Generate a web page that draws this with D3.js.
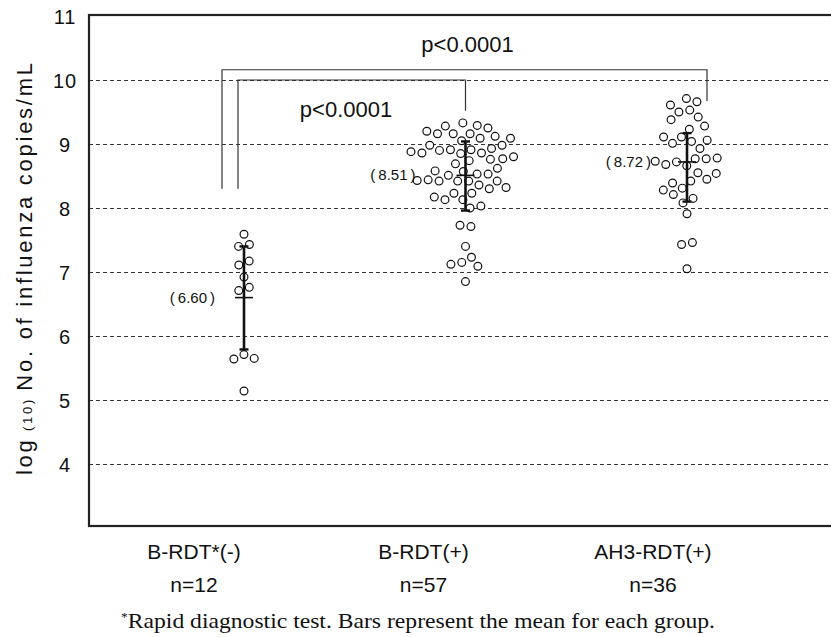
<!DOCTYPE html>
<html>
<head>
<meta charset="utf-8">
<script src="https://cdn.jsdelivr.net/npm/d3@7"></script>
<style>
  body { margin: 0; background: #fff; }
</style>
</head>
<body>
<div id="chart-area"></div>
<script>
// data
var groups = ["B-RDT*(-)", "B-RDT(+)", "AH3-RDT(+)"];
var groupN = ["n=12", "n=57", "n=36"];
var groupMeans = [6.60, 8.51, 8.72];
var barLow = [5.79, 7.96, 8.10];
var barHigh = [7.40, 9.04, 9.17];
var yTicks = [4, 5, 6, 7, 8, 9, 10, 11];
var pLabels = ["p<0.0001", "p<0.0001"];

var bRdtNeg = [7.59, 7.43, 7.40, 7.11, 7.17, 6.92, 6.76, 6.71, 5.71, 5.65, 5.64, 5.14];
var bRdtPos = [9.33, 9.29, 9.28, 9.25, 9.20, 9.16, 9.16, 9.16, 9.12, 9.09, 9.09, 9.05,
  8.98, 8.98, 8.93, 8.91, 8.91, 8.90, 8.88, 8.86, 8.86, 8.85, 8.80, 8.77, 8.76, 8.74,
  8.69, 8.62, 8.58, 8.57, 8.53, 8.53, 8.51, 8.44, 8.43, 8.42, 8.42, 8.42, 8.42, 8.36,
  8.32, 8.30, 8.23, 8.23, 8.17, 8.13, 8.13, 8.03, 8.00, 7.73, 7.71, 7.40, 7.23, 7.15,
  7.12, 7.09, 6.85];
var ah3RdtPos = [9.71, 9.66, 9.61, 9.53, 9.50, 9.42, 9.38, 9.28, 9.23, 9.11, 9.11, 9.06,
  9.04, 9.01, 8.93, 8.78, 8.77, 8.77, 8.73, 8.72, 8.68, 8.66, 8.55, 8.54, 8.45, 8.42,
  8.39, 8.31, 8.28, 8.21, 8.15, 8.08, 7.91, 7.46, 7.43, 7.05];
var groupValues = [bRdtNeg, bRdtPos, ah3RdtPos];

var W = 831, H = 637;
var plotLeft = 89, plotTop = 15, plotBottom = 526;
var sans = "Liberation Sans, Arial, sans-serif";

var svg = d3.select("#chart-area")
  .append("svg")
  .attr("width", W)
  .attr("height", H)
  .style("font-family", sans);

var y = d3.scaleLinear()
  .domain([3, 11])
  .range([528, 16]);

var x = d3.scalePoint()
  .domain(groups)
  .range([244, 687]);

// category labels sit a little left of the dots
var xText = d3.scalePoint()
  .domain(groups)
  .range([194, 653]);

// dashed grid
var grid = svg.append("g")
  .attr("transform", "translate(" + plotLeft + ",0)")
  .call(d3.axisRight(y).tickValues(yTicks.slice(0, -1)).tickSize(W - plotLeft).tickFormat(""));
grid.select(".domain").remove();
grid.selectAll("line")
  .attr("stroke", "#333")
  .attr("stroke-width", 1)
  .attr("stroke-dasharray", "4,3");

// frame
svg.append("rect")
  .attr("x", plotLeft)
  .attr("y", plotTop)
  .attr("width", W - plotLeft + 10)
  .attr("height", plotBottom - plotTop)
  .attr("fill", "none")
  .attr("stroke", "#222")
  .attr("stroke-width", 2.2);

// y axis labels
var yAxis = svg.append("g")
  .attr("transform", "translate(" + plotLeft + ",0)")
  .call(d3.axisLeft(y).tickValues(yTicks).tickSize(0).tickPadding(24));
yAxis.select(".domain").remove();
yAxis.selectAll("text")
  .attr("text-anchor", "middle")
  .attr("x", -24)
  .attr("dy", "0.36em")
  .style("font-family", sans)
  .style("font-size", "20px")
  .style("letter-spacing", "1px")
  .attr("fill", "#111");

var yLabel = svg.append("text")
  .attr("transform", "rotate(-90)")
  .attr("x", -269)
  .attr("y", 32)
  .attr("fill", "#111")
  .style("font-size", "22px")
  .attr("textLength", 412)
  .attr("lengthAdjust", "spacing")
  .attr("text-anchor", "middle");
yLabel.append("tspan").text("log");
yLabel.append("tspan").style("font-size", "13px").text(" (10) ");
yLabel.append("tspan").text("No. of influenza copies/mL");

// beeswarm layout, y fixed at value
var nodes = [];
groupValues.forEach(function(vals, i) {
  vals.forEach(function(v) {
    nodes.push({ g: i, v: v, x: x(groups[i]), y: y(v), fy: y(v) });
  });
});
var sim = d3.forceSimulation(nodes)
  .force("x", d3.forceX(function(d) { return x(groups[d.g]); }).strength(0.06))
  .force("collide", d3.forceCollide(5.5))
  .stop();
for (var k = 0; k < 300; k++) sim.tick();

svg.append("g")
  .selectAll("circle")
  .data(nodes)
  .enter()
  .append("circle")
  .attr("cx", function(d) { return d.x; })
  .attr("cy", function(d) { return y(d.v); })
  .attr("r", 3.9)
  .attr("fill", "#fff")
  .attr("stroke", "#111")
  .attr("stroke-width", 1.2);

// mean and bars
var bars = svg.append("g").attr("stroke", "#111");
groups.forEach(function(g, i) {
  var cx = x(g);
  bars.append("line")
    .attr("x1", cx).attr("x2", cx)
    .attr("y1", y(barLow[i])).attr("y2", y(barHigh[i]))
    .attr("stroke-width", 2.6);
  [barLow[i], barHigh[i]].forEach(function(v) {
    bars.append("line")
      .attr("x1", cx - 4.5).attr("x2", cx + 4.5)
      .attr("y1", y(v)).attr("y2", y(v))
      .attr("stroke-width", 2.4);
  });
  bars.append("line")
    .attr("x1", cx - 9).attr("x2", cx + 9)
    .attr("y1", y(groupMeans[i])).attr("y2", y(groupMeans[i]))
    .attr("stroke-width", 1.6);
});

// mean labels, right edge just left of each swarm (wide brackets)
var meanGap = [29, 50, 36];
var ml = svg.append("g")
  .selectAll("text")
  .data(groupMeans)
  .enter()
  .append("text")
  .attr("x", function(d, i) { return x(groups[i]) - meanGap[i]; })
  .attr("y", function(d) { return y(d) + 5; })
  .attr("fill", "#111")
  .style("font-size", "15px")
  .attr("text-anchor", "end");
ml.append("tspan").text("(");
ml.append("tspan").attr("dx", 3).text(function(d) { return d.toFixed(2); });
ml.append("tspan").attr("dx", 3).text(")");

// significance brackets
var br = svg.append("g")
  .attr("fill", "none")
  .attr("stroke", "#333")
  .attr("stroke-width", 1.2);
var x0 = x(groups[0]), x1 = x(groups[1]), x2 = x(groups[2]);
br.append("path")
  .attr("d", "M" + (x0 - 22) + "," + y(8.3) + "V" + y(10.16) + "H" + (x2 + 20) + "V" + y(9.67));
br.append("path")
  .attr("d", "M" + (x0 - 6) + "," + y(8.3) + "V" + y(10) + "H" + x1 + "V" + y(9.52));

svg.append("text")
  .attr("x", x1 + 2)
  .attr("y", 52)
  .attr("fill", "#111")
  .style("font-size", "22px")
  .attr("text-anchor", "middle")
  .text(pLabels[0]);
svg.append("text")
  .attr("x", 346)
  .attr("y", 117)
  .attr("fill", "#111")
  .style("font-size", "22px")
  .attr("text-anchor", "middle")
  .text(pLabels[1]);

// x labels
svg.append("g")
  .selectAll("text")
  .data(groups)
  .enter()
  .append("text")
  .attr("x", function(d) { return xText(d); })
  .attr("y", 559)
  .attr("fill", "#111")
  .style("font-size", "21px")
  .attr("text-anchor", "middle")
  .text(function(d) { return d; });
svg.append("g")
  .selectAll("text")
  .data(groupN)
  .enter()
  .append("text")
  .attr("x", function(d, i) { return xText(groups[i]); })
  .attr("y", 592)
  .attr("fill", "#111")
  .style("font-size", "21px")
  .attr("text-anchor", "middle")
  .text(function(d) { return d; });

var note = svg.append("text")
  .attr("x", 418)
  .attr("y", 628)
  .attr("fill", "#111")
  .style("font-size", "21px")
  .style("font-family", "Liberation Serif, Times New Roman, serif")
  .attr("textLength", 594)
  .attr("lengthAdjust", "spacingAndGlyphs")
  .attr("text-anchor", "middle");
note.append("tspan").style("font-size", "12px").attr("dy", -7).text("*");
note.append("tspan").attr("dy", 7).text("Rapid diagnostic test. Bars represent the mean for each group.");
</script>
</body>
</html>
